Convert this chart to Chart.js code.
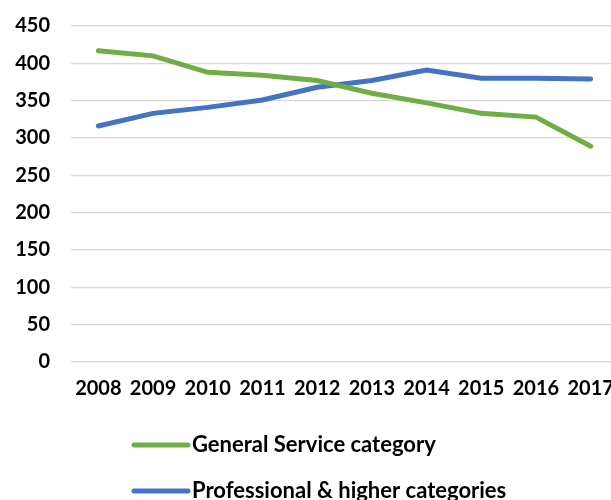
<!DOCTYPE html>
<html>
<head>
<meta charset="utf-8">
<script src="https://cdn.jsdelivr.net/npm/chart.js@4.4.1/dist/chart.umd.min.js"></script>
<style>
  html, body { margin: 0; padding: 0; background: #fff; overflow: hidden; }
  #wrap { width: 618px; height: 500px; }
</style>
</head>
<body>
<div id="wrap"><canvas id="staffChart" width="618" height="500"></canvas></div>
<script>
// Staff numbers by category, 2008-2017
const years = ['2008', '2009', '2010', '2011', '2012', '2013', '2014', '2015', '2016', '2017'];
const generalService = [417, 410, 388, 384, 377, 360, 347, 333, 328, 289];
const professional = [316, 333, 341, 351, 368, 377, 391, 380, 380, 379];
const yTicks = [0, 50, 100, 150, 200, 250, 300, 350, 400, 450];

const fontFamily = 'Lato, "DejaVu Sans", sans-serif';
const labelFont = { family: fontFamily, size: 20, weight: 'bold' };

// Legend stacked in one left-aligned column under the axis
const columnLegend = {
    id: 'columnLegend',
    afterDraw(chart) {
        const ctx = chart.ctx;
        const x0 = 134, lineLen = 54, rows = [445, 491];
        ctx.save();
        ctx.font = `bold 22px ${fontFamily}`;
        ctx.textBaseline = 'middle';
        chart.data.datasets.forEach((ds, i) => {
            const y = rows[i];
            ctx.strokeStyle = ds.borderColor;
            ctx.lineWidth = 5;
            ctx.lineCap = 'round';
            ctx.beginPath();
            ctx.moveTo(x0, y);
            ctx.lineTo(x0 + lineLen, y);
            ctx.stroke();
            ctx.fillStyle = '#000';
            ctx.fillText(ds.label, x0 + lineLen + 4, y);
        });
        ctx.restore();
    }
};

new Chart(document.getElementById('staffChart'), {
    type: 'line',
    data: {
        labels: years,
        datasets: [
            {
                label: 'General Service category',
                data: generalService,
                borderColor: '#70AD47',
                borderWidth: 5,
                pointRadius: 0,
                borderCapStyle: 'round',
                tension: 0
            },
            {
                label: 'Professional & higher categories',
                data: professional,
                borderColor: '#4472C4',
                borderWidth: 5,
                pointRadius: 0,
                borderCapStyle: 'round',
                tension: 0
            }
        ]
    },
    options: {
        responsive: false,
        animation: false,
        layout: { padding: { top: 26, left: 13, right: 0, bottom: 92 } },
        plugins: {
            legend: { display: false },
            tooltip: { enabled: false }
        },
        scales: {
            x: {
                offset: true,
                grid: { display: false },
                border: { display: false },
                afterFit(axis) {
                    axis.paddingLeft = 0;
                    axis.paddingRight = 0;
                },
                ticks: {
                    color: '#000',
                    font: labelFont,
                    autoSkip: false,
                    maxRotation: 0,
                    padding: 7
                }
            },
            y: {
                min: 0,
                max: 450,
                afterBuildTicks(axis) {
                    axis.ticks = yTicks.map(v => ({ value: v }));
                },
                afterFit(axis) {
                    axis.width = 58;
                    axis.paddingTop = 0;
                    axis.paddingBottom = 0;
                },
                grid: { color: '#d9d9d9', lineWidth: 1.3, drawTicks: false },
                border: { display: false },
                ticks: {
                    color: '#000',
                    font: labelFont,
                    padding: 21
                }
            }
        }
    },
    plugins: [columnLegend]
});
</script>
</body>
</html>
